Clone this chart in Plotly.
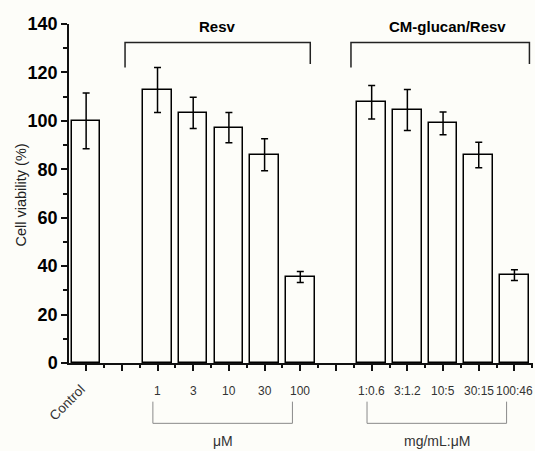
import plotly.graph_objects as go

# ---- data ----
control_label = ["Control"]
control_value = [100.0]
control_err = [11.5]

resv_labels = ["1", "3", "10", "30", "100"]
resv_values = [112.7, 103.3, 97.2, 86.0, 35.5]
resv_err = [9.3, 6.5, 6.2, 6.6, 2.3]

cm_labels = ["1:0.6", "3:1.2", "10:5", "30:15", "100:46"]
cm_values = [107.7, 104.5, 99.0, 85.9, 36.3]
cm_err = [6.9, 8.5, 4.7, 5.3, 2.2]

group_titles = ["Resv", "CM-glucan/Resv"]
unit_labels = ["\u03bcM", "mg/mL:\u03bcM"]
y_title = "Cell viability (%)"

# ---- layout of slots (one empty slot between groups) ----
x_control = [0]
x_resv = [2 + i for i in range(len(resv_labels))]
x_cm = [x_resv[-1] + 2 + i for i in range(len(cm_labels))]

xs = x_control + x_resv + x_cm
vals = control_value + resv_values + cm_values
errs = control_err + resv_err + cm_err
labels = control_label + resv_labels + cm_labels

BG = "#fdfdf9"
FONT = "Liberation Sans, Arial, sans-serif"

fig = go.Figure()
fig.add_trace(go.Bar(
    x=xs, y=vals, width=0.8,
    marker=dict(color=BG, line=dict(color="black", width=1.5)),
    error_y=dict(type="data", array=errs, visible=True, color="black",
                 thickness=1.5, width=3.5),
    showlegend=False,
))

annotations = []
# x tick labels
for x, lab in zip(xs, labels):
    if lab == "Control":
        annotations.append(dict(x=x, y=0, xref="x", yref="paper", text=lab,
                                showarrow=False, textangle=-45, yshift=-39, xshift=-19,
                                xanchor="center", yanchor="middle",
                                font=dict(family=FONT, size=13.5, color="#333")))
    else:
        annotations.append(dict(x=x, y=0, xref="x", yref="paper", text=lab,
                                showarrow=False, yshift=-28,
                                xanchor="center", yanchor="middle",
                                font=dict(family=FONT, size=12, color="#333")))

# group titles and top brackets
shapes = []
for grp_x, title, shift in [(x_resv, group_titles[0], 0.0), (x_cm, group_titles[1], 0.2)]:
    if grp_x is x_cm:
        x0 = grp_x[0] - 0.58
        x1 = grp_x[-1] + 0.42
    else:
        x0 = grp_x[0] - 0.91
        x1 = grp_x[-1] + 0.28
    shapes.append(dict(type="path", xref="x", yref="y",
                       path=f"M {x0},122 L {x0},132.4 L {x1},132.4 L {x1},123.5",
                       line=dict(color="#222", width=1.5)))
    annotations.append(dict(x=(x0 + x1) / 2 + shift, y=138.8, xref="x", yref="y",
                            text=f"<b>{title}</b>", showarrow=False,
                            xanchor="center", yanchor="middle",
                            font=dict(family=FONT, size=15, color="black")))

# bottom unit brackets
for grp_x, unit in [(x_resv, unit_labels[0]), (x_cm, unit_labels[1])]:
    x0 = grp_x[0] - 0.13
    x1 = grp_x[-1] - 0.22
    shapes.append(dict(type="path", xref="x", yref="paper",
                       path=f"M {x0},-0.114 L {x0},-0.178 L {x1},-0.178 L {x1},-0.114",
                       line=dict(color="#8a8a8a", width=1)))
    annotations.append(dict(x=(x0 + x1) / 2, y=0, xref="x", yref="paper",
                            text=unit, showarrow=False, yshift=-78,
                            xanchor="center", yanchor="middle",
                            font=dict(family=FONT, size=14, color="#333")))

# y-axis title
annotations.append(dict(x=0, y=0.5, xref="paper", yref="paper", text=y_title,
                        showarrow=False, textangle=-90, xshift=-49, yshift=-2,
                        xanchor="center", yanchor="middle",
                        font=dict(family=FONT, size=14.5, color="#222")))

fig.update_layout(
    width=535, height=451,
    margin=dict(l=69, r=2, t=24, b=88),
    paper_bgcolor=BG, plot_bgcolor=BG,
    shapes=shapes, annotations=annotations,
    bargap=0,
)
fig.update_xaxes(
    range=[-0.48, 12.52], showgrid=False, zeroline=False,
    showline=True, linecolor="#111", linewidth=1.5,
    ticks="outside", tickvals=list(range(0, 13)), ticklen=6, tickwidth=1.5,
    tickcolor="#111", showticklabels=False,
    minor=dict(ticks="outside", dtick=0.5, tick0=0, ticklen=3, tickwidth=1.5, tickcolor="#111"),
)
fig.update_yaxes(
    range=[0, 140], showgrid=False, zeroline=False,
    showline=True, linecolor="#111", linewidth=1.5,
    ticks="outside", dtick=20, tick0=0, ticklen=6, tickwidth=1.5, tickcolor="#111",
    tickfont=dict(family=FONT, size=18, color="black", weight="bold"),
    minor=dict(ticks="outside", dtick=10, ticklen=4, tickwidth=1.5, tickcolor="#111"),
)

fig.write_html(
    "out.html",
    config={"displayModeBar": False},
    post_script="document.body.style.margin='0';document.body.style.background='" + BG + "';",
)
